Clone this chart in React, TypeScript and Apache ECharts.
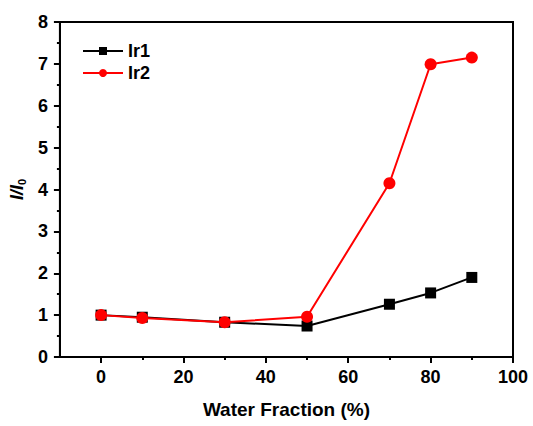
import React, { useEffect, useRef } from "react";
import * as echarts from "echarts";

const waterFraction = [0, 10, 30, 50, 70, 80, 90];
const ir1Values = [1.0, 0.95, 0.83, 0.74, 1.26, 1.53, 1.9];
const ir2Values = [1.0, 0.93, 0.83, 0.96, 4.15, 6.99, 7.15];
const seriesNames = ["Ir1", "Ir2"];
const xMajorTicks = [0, 20, 40, 60, 80, 100];
const xMinorTicks = [10, 30, 50, 70, 90];

export default function App() {
  const ref = useRef<HTMLDivElement>(null);
  useEffect(() => {
    if (!ref.current) return;
    const chart = echarts.init(ref.current, undefined, { renderer: "svg" });
    const font = "Liberation Sans, Arial, sans-serif";
    const black = "#000";
    chart.setOption({
      animation: false,
      backgroundColor: "#fff",
      textStyle: { fontFamily: font },
      grid: {
        left: 58,
        right: 20,
        top: 22,
        bottom: 69,
        show: true,
        borderColor: black,
        borderWidth: 2,
      },
      legend: {
        orient: "vertical",
        left: 77,
        top: 37,
        itemWidth: 40,
        itemHeight: 10,
        itemGap: 4,
        textStyle: { fontSize: 18, fontWeight: "bold", color: black, fontFamily: font },
        data: seriesNames,
      },
      xAxis: [
        {
          type: "value",
          min: -10,
          max: 100,
          interval: 10,
          name: "Water Fraction (%)",
          nameLocation: "middle",
          nameGap: 43,
          nameTextStyle: { fontSize: 19, fontWeight: "bold", color: black, fontFamily: font },
          axisLine: { onZero: false, lineStyle: { color: black, width: 2 } },
          axisTick: { inside: false, length: 6, customValues: xMajorTicks, lineStyle: { color: black, width: 2 } },
          splitLine: { show: false },
          axisLabel: {
            fontSize: 18,
            fontWeight: "bold",
            color: black,
            margin: 11,
            fontFamily: font,
            customValues: xMajorTicks,
          },
        },
        {
          type: "value",
          position: "bottom",
          min: -10,
          max: 100,
          interval: 10,
          axisLine: { show: false, onZero: false },
          axisTick: { inside: false, length: 3, customValues: xMinorTicks, lineStyle: { color: black, width: 2 } },
          axisLabel: { show: false },
          splitLine: { show: false },
        },
      ],
      yAxis: {
        type: "value",
        min: 0,
        max: 8,
        interval: 1,
        name: "{i|I/I}{s|0}",
        nameLocation: "middle",
        nameGap: 31,
        nameRotate: 90,
        nameTextStyle: {
          color: black,
          rich: {
            i: { fontSize: 18, fontWeight: "bold", fontStyle: "italic", fontFamily: font, color: black },
            s: { fontSize: 11, fontWeight: "bold", fontFamily: font, color: black, verticalAlign: "bottom", padding: [9, 0, 0, 0] },
          },
        },
        axisLine: { onZero: false, lineStyle: { color: black, width: 2 } },
        axisTick: { inside: false, length: 6, lineStyle: { color: black, width: 2 } },
        minorTick: { show: true, splitNumber: 2, length: 3, lineStyle: { color: black, width: 2 } },
        splitLine: { show: false },
        axisLabel: { fontSize: 18, fontWeight: "bold", color: black, margin: 12, fontFamily: font },
      },
      series: [
        {
          name: seriesNames[0],
          type: "line",
          data: waterFraction.map((x, i) => [x, ir1Values[i]]),
          symbol: "rect",
          symbolSize: 11,
          lineStyle: { color: black, width: 2 },
          itemStyle: { color: black },
          z: 2,
        },
        {
          name: seriesNames[1],
          type: "line",
          data: waterFraction.map((x, i) => [x, ir2Values[i]]),
          symbol: "circle",
          symbolSize: 12,
          lineStyle: { color: "#f00", width: 2 },
          itemStyle: { color: "#f00" },
          z: 3,
        },
      ],
    });
    return () => chart.dispose();
  }, []);
  return <div ref={ref} style={{ width: 533, height: 426, position: "absolute", left: 0, top: 0 }} />;
}
